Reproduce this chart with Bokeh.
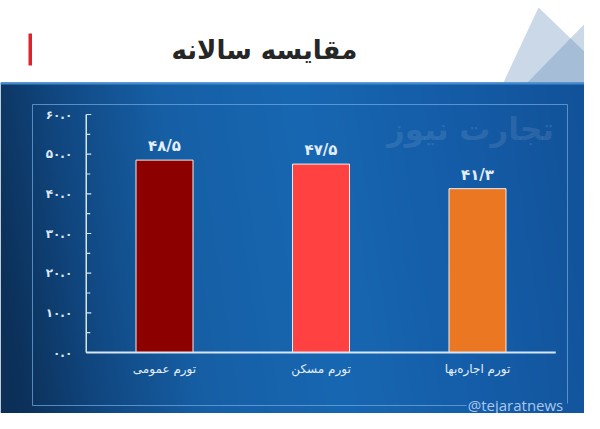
import numpy as np
from bokeh.plotting import figure
from bokeh.models import Range1d
from bokeh.core.properties import value
from bokeh.embed import file_html
from bokeh.resources import INLINE

# ---------------- data ----------------
categories = ["تورم عمومی", "تورم مسکن", "تورم اجاره‌بها"]
values = [48.5, 47.5, 41.3]
value_labels = ["۴۸/۵", "۴۷/۵", "۴۱/۳"]
bar_colors = ["#8c0000", "#ff4141", "#ec7722"]
y_ticks = [0, 10, 20, 30, 40, 50, 60]
y_tick_labels = ["۰.۰", "۱۰.۰", "۲۰.۰", "۳۰.۰", "۴۰.۰", "۵۰.۰", "۶۰.۰"]
minor_ticks = [5, 15, 25, 35, 45, 55]
title_text = "مقایسه سالانه"
watermark_text = "تجارت نیوز"
handle_text = "@tejaratnews"

# ---------------- layout (reference pixel space) ----------------
W, H = 584, 413
REF_H = 429

def Y(ref_y):
    return REF_H - ref_y

# value scale: 0 -> ref y 352, 60 -> ref y 114
zero_ref, top_ref = 352.0, 114.0
ppu = (zero_ref - top_ref) / (y_ticks[-1] - y_ticks[0])
val_start = (Y(H) - Y(zero_ref)) / ppu
val_end = (Y(0) - Y(zero_ref)) / ppu

# category scale: index 0 -> ref x 164, step 156.5 px
cat0_ref, step = 164.0, 156.5
cat_start = (0 - cat0_ref) / step
cat_end = (W - cat0_ref) / step

p = figure(width=W, height=H, x_range=Range1d(0, W), y_range=Range1d(Y(H), Y(0)),
           output_backend="svg", toolbar_location=None, min_border=0,
           x_axis_location=None, y_axis_location=None)
p.extra_x_ranges = {"cat": Range1d(cat_start, cat_end)}
p.extra_y_ranges = {"val": Range1d(val_start, val_end)}
p.grid.visible = False
p.outline_line_color = None
p.background_fill_color = "white"
p.border_fill_color = "white"

# ---------------- background gradient ----------------
gw, gh = 600, 347
xs = np.arange(gw) + 0.5
ys_ref = REF_H - (np.arange(gh) + 0.5)
XX, YY = np.meshgrid(xs, ys_ref)
u = XX - 0.15 * (YY - 250)
stops_u = [-60, 0, 80, 180, 320, 460, 640]
stops_c = np.array([(11, 44, 82), (12, 49, 90), (17, 72, 130), (22, 95, 165),
                    (24, 103, 178), (21, 93, 168), (17, 80, 150)], dtype=float)
img = np.empty((gh, gw), dtype=np.uint32)
view = img.view(dtype=np.uint8).reshape((gh, gw, 4))
for k in range(3):
    view[:, :, k] = np.interp(u, stops_u, stops_c[:, k]).astype(np.uint8)
view[:, :, 3] = 255
p.image_rgba(image=[img], x=0, y=Y(REF_H), dw=gw, dh=gh)

# header bottom highlight
p.segment(x0=0, y0=Y(83), x1=600, y1=Y(83), line_color="#3f8bd4", line_width=2)

# header decorations
p.patch(x=[503, 538, 616], y=[Y(82), Y(7), Y(82)], fill_color="#507daf", fill_alpha=0.3, line_color=None)
p.patch(x=[527, 600, 640], y=[Y(82), Y(7), Y(82)], fill_color="#507daf", fill_alpha=0.3, line_color=None)
p.quad(left=28, right=31.5, top=Y(33), bottom=Y(65), fill_color="#d9262e", line_color=None)
p.text(x=[264], y=[Y(49)], text=[title_text], text_align="center", text_baseline="middle",
       text_font=value("DejaVu Sans"), text_font_style="bold", text_font_size="26px", text_color="#262626")

# chart frame
fc = "#6fa6dc"
p.segment(x0=[32, 32, 567, 32], y0=[Y(104), Y(104), Y(104), Y(405)],
          x1=[567, 32, 567, 466], y1=[Y(104), Y(405), Y(403), Y(405)],
          line_color=fc, line_alpha=0.75, line_width=1)
p.text(x=[515], y=[Y(404)], text=[handle_text], text_align="center", text_baseline="middle",
       text_font=value("Open Sans"), text_font_size="15px", text_color="#a9c8ec")

# watermark
p.text(x=[470], y=[Y(128)], text=[watermark_text], text_align="center", text_baseline="middle",
       text_font=value("DejaVu Sans"), text_font_style="bold", text_font_size="31px",
       text_color="white", text_alpha=0.11)

# ---------------- chart through the value / category scales ----------------
idx = list(range(len(categories)))
kw = dict(x_range_name="cat", y_range_name="val")
axis_x = idx[0] - 0.5
axis_end = idx[-1] + 0.5
axc = "#d6e6f6"

p.vbar(x=idx, top=values, bottom=0, width=57 / step, fill_color=bar_colors,
       line_color="#f2eeee", line_width=1, **kw)

# axes lines
p.segment(x0=[axis_x], y0=[y_ticks[0]], x1=[axis_x], y1=[y_ticks[-1]], line_color=axc, line_width=1.5, **kw)
p.segment(x0=[axis_x], y0=[0], x1=[axis_end], y1=[0], line_color=axc, line_width=2, **kw)
# ticks (inside)
p.segment(x0=[axis_x] * len(y_ticks), y0=y_ticks, x1=[axis_x + 5 / step] * len(y_ticks), y1=y_ticks,
          line_color=axc, line_width=1.2, **kw)
p.segment(x0=[axis_x] * len(minor_ticks), y0=minor_ticks, x1=[axis_x + 4 / step] * len(minor_ticks), y1=minor_ticks,
          line_color=axc, line_width=1.2, **kw)
p.text(x=[axis_x] * len(y_ticks), y=y_ticks, text=y_tick_labels, x_offset=-14,
       text_align="right", text_baseline="middle", text_font=value("DejaVu Sans"),
       text_font_style="bold", text_font_size="12px", text_color="#dbe8f6", **kw)

# value labels
p.text(x=idx, y=values, text=value_labels, y_offset=-5, text_align="center", text_baseline="bottom",
       text_font=value("DejaVu Sans"), text_font_style="bold", text_font_size="15px",
       text_color="#e4eef9", **kw)

# category labels
p.text(x=idx, y=[0] * len(idx), text=categories, y_offset=16, text_align="center", text_baseline="middle",
       text_font=value("DejaVu Sans"), text_font_size="12px", text_color="#e4eef9", **kw)

open("out.html", "w").write(file_html(p, INLINE))
